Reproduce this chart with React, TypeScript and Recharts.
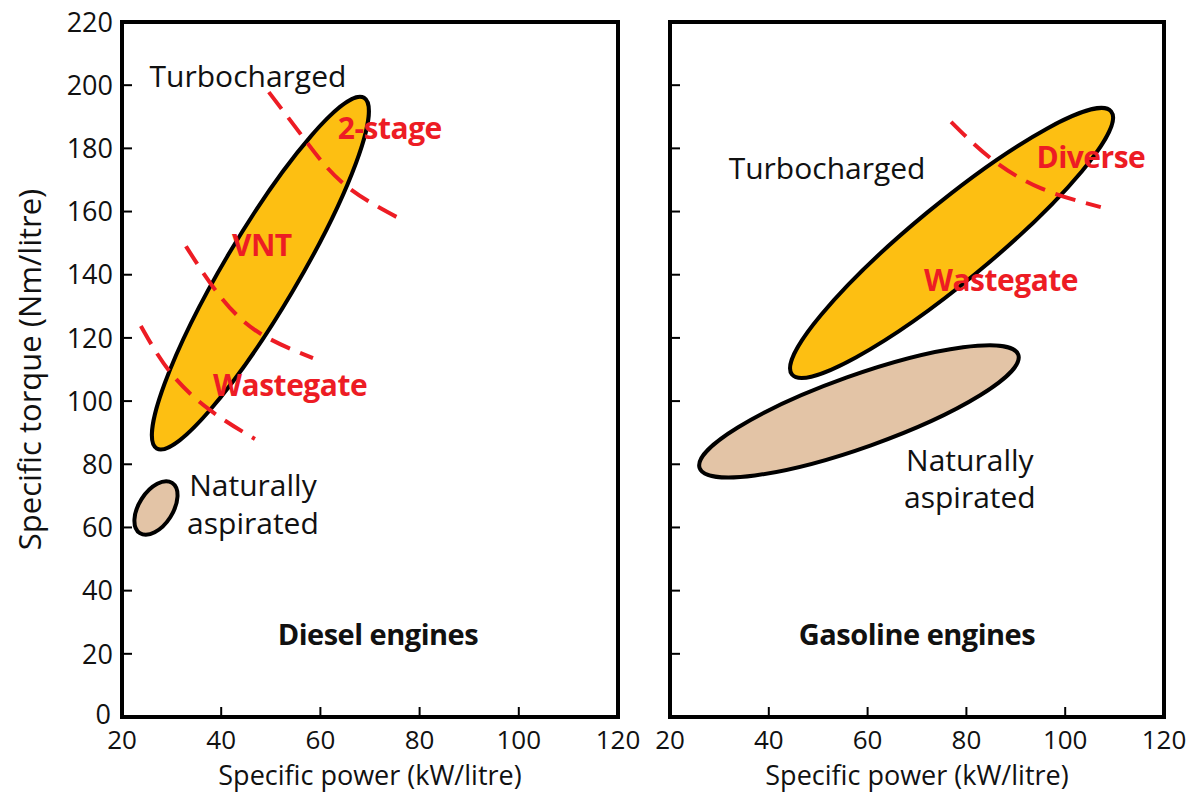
import {
  ComposedChart,
  Line,
  Scatter,
  XAxis,
  YAxis,
  ReferenceArea,
  ReferenceLine,
} from "recharts";

const FONT = "'Open Sans', sans-serif";
const RED = "#ED1C24";
const ORANGE = "#FDBF12";
const TAN = "#E3C4A6";

const xTicks = [20, 40, 60, 80, 100, 120];
const yTicks = [0, 20, 40, 60, 80, 100, 120, 140, 160, 180, 200, 220];

// operating regions: end points of each ellipse's long axis (kW/litre, Nm/litre)
const dieselTurboAxis = [
  { x: 27.0, y: 85.0 },
  { x: 68.8, y: 196.0 },
];
const dieselNaturalAxis = [
  { x: 23.6, y: 58.2 },
  { x: 30.1, y: 74.1 },
];
const gasolineTurboAxis = [
  { x: 44.7, y: 108.4 },
  { x: 109.3, y: 191.7 },
];
const gasolineNaturalAxis = [
  { x: 26.0, y: 78.8 },
  { x: 90.5, y: 114.7 },
];

// dashed boundaries between boosting technologies
const dieselTwoStageArc = [
  { x: 49.6, y: 197.8 },
  { x: 56.9, y: 182.7 },
  { x: 65.0, y: 168.4 },
  { x: 76.9, y: 157.0 },
];
const dieselVntArc = [
  { x: 32.9, y: 149.0 },
  { x: 38.8, y: 135.2 },
  { x: 46.8, y: 122.5 },
  { x: 58.5, y: 113.6 },
];
const dieselWastegateArc = [
  { x: 23.8, y: 123.8 },
  { x: 29.7, y: 109.2 },
  { x: 37.7, y: 97.2 },
  { x: 46.8, y: 88.0 },
];
const gasolineDiverseArc = [
  { x: 76.9, y: 188.4 },
  { x: 84.8, y: 177.0 },
  { x: 94.9, y: 167.5 },
  { x: 107.2, y: 161.4 },
];

type Note = { x: number; y: number; text: string; kind: "plain" | "tech" | "title" };

const dieselNotes: Note[] = [
  { x: 45.4, y: 202.9, text: "Turbocharged", kind: "plain" },
  { x: 74.0, y: 186.5, text: "2-stage", kind: "tech" },
  { x: 48.2, y: 149.4, text: "VNT", kind: "tech" },
  { x: 53.9, y: 105.1, text: "Wastegate", kind: "tech" },
  { x: 46.4, y: 73.4, text: "Naturally", kind: "plain" },
  { x: 46.4, y: 61.4, text: "aspirated", kind: "plain" },
  { x: 71.6, y: 26.0, text: "Diesel engines", kind: "title" },
];

const gasolineNotes: Note[] = [
  { x: 51.8, y: 173.8, text: "Turbocharged", kind: "plain" },
  { x: 105.2, y: 177.3, text: "Diverse", kind: "tech" },
  { x: 87.0, y: 138.3, text: "Wastegate", kind: "tech" },
  { x: 80.7, y: 81.4, text: "Naturally", kind: "plain" },
  { x: 80.7, y: 69.6, text: "aspirated", kind: "plain" },
  { x: 70.0, y: 26.0, text: "Gasoline engines", kind: "title" },
];

const TICK_LEN = 10;
const TICK_FONT = 26;

const BottomTick = (props: any) => {
  const { x, y, payload } = props;
  const edge = payload.value === 20 || payload.value === 120;
  return (
    <g>
      {!edge && <line x1={x} x2={x} y1={y} y2={y - TICK_LEN} stroke="#000" strokeWidth={2} />}
      <text x={x} y={y + 32} textAnchor="middle" fontSize={TICK_FONT} fontFamily={FONT} fill="#111">
        {payload.value}
      </text>
    </g>
  );
};

const TopTick = (props: any) => {
  const { x, y, payload } = props;
  if (payload.value === 20 || payload.value === 120) return <g />;
  return <line x1={x} x2={x} y1={y} y2={y + TICK_LEN} stroke="#000" strokeWidth={2} />;
};

const makeLeftTick = (withLabel: boolean) => (props: any) => {
  const { x, y, payload } = props;
  const edge = payload.value === 0 || payload.value === 220;
  return (
    <g>
      {!edge && <line x1={x} x2={x + TICK_LEN} y1={y} y2={y} stroke="#000" strokeWidth={2} />}
      {withLabel && (
        <text
          x={payload.value === 0 ? x - 11 : x - 9}
          y={payload.value === 0 ? y - 3 : y}
          dy="0.36em"
          textAnchor="end"
          fontSize={27}
          fontFamily={FONT}
          fill="#111"
        >
          {payload.value}
        </text>
      )}
    </g>
  );
};

const RightTick = (props: any) => {
  const { x, y, payload } = props;
  if (payload.value === 0 || payload.value === 220) return <g />;
  return <line x1={x} x2={x - TICK_LEN} y1={y} y2={y} stroke="#000" strokeWidth={2} />;
};

// ellipse spanning the pixel segment handed over by ReferenceLine
const ellipseShape = (halfWidth: number, fill: string) => (p: any) => {
  const { x1, y1, x2, y2 } = p;
  const cx = (x1 + x2) / 2;
  const cy = (y1 + y2) / 2;
  const rx = Math.hypot(x2 - x1, y2 - y1) / 2;
  const angle = (Math.atan2(y2 - y1, x2 - x1) * 180) / Math.PI;
  return (
    <ellipse
      cx={cx}
      cy={cy}
      rx={rx}
      ry={halfWidth}
      transform={`rotate(${angle} ${cx} ${cy})`}
      fill={fill}
      stroke="#000"
      strokeWidth={4}
    />
  );
};

const noteShape = (p: any) => {
  const n: Note = p.payload;
  const style =
    n.kind === "tech"
      ? { fill: RED, fontWeight: 700, fontSize: 30 }
      : n.kind === "title"
      ? { fill: "#111", fontWeight: 700, fontSize: 29 }
      : { fill: "#111", fontWeight: 400, fontSize: 30 };
  return (
    <text
      x={p.cx}
      y={p.cy}
      dy="0.36em"
      textAnchor="middle"
      fontFamily={FONT}
      fontSize={style.fontSize}
      fontWeight={style.fontWeight}
      fill={style.fill}
      letterSpacing={n.kind === "plain" ? 0 : -0.5}
    >
      {n.text}
    </text>
  );
};

type Region = { axis: { x: number; y: number }[]; half: number; fill: string };

interface PanelProps {
  width: number;
  leftWidth: number;
  rightWidth: number;
  showYLabels: boolean;
  regions: Region[];
  arcs: { x: number; y: number }[][];
  notes: Note[];
}

function Panel({ width, leftWidth, rightWidth, showYLabels, regions, arcs, notes }: PanelProps) {
  return (
    <ComposedChart width={width} height={793} margin={{ top: 0, right: 0, bottom: 0, left: 0 }}>
      <XAxis
        dataKey="x"
        type="number"
        domain={[20, 120]}
        ticks={xTicks}
        height={76}
        axisLine={false}
        tickLine={false}
        tickSize={0}
        tickMargin={0}
        tick={<BottomTick />}
        interval={0}
        allowDataOverflow
        label={{
          value: "Specific power (kW/litre)",
          position: "insideBottom",
          offset: 8,
          style: { fontFamily: FONT, fontSize: 27, fill: "#111" },
        }}
      />
      <XAxis
        xAxisId="top"
        orientation="top"
        type="number"
        domain={[20, 120]}
        ticks={xTicks}
        height={22}
        axisLine={false}
        tickLine={false}
        tickSize={0}
        tickMargin={0}
        tick={<TopTick />}
        interval={0}
      />
      <YAxis
        type="number"
        domain={[0, 220]}
        ticks={yTicks}
        width={leftWidth}
        axisLine={false}
        tickLine={false}
        tickSize={0}
        tickMargin={0}
        tick={makeLeftTick(showYLabels)}
        interval={0}
        allowDataOverflow
        label={
          showYLabels
            ? {
                value: "Specific torque (Nm/litre)",
                angle: -90,
                position: "insideLeft",
                offset: 30,
                style: { fontFamily: FONT, fontSize: 31, fill: "#111", textAnchor: "middle" },
              }
            : undefined
        }
      />
      <YAxis
        yAxisId="right"
        orientation="right"
        type="number"
        domain={[0, 220]}
        ticks={yTicks}
        width={rightWidth}
        axisLine={false}
        tickLine={false}
        tickSize={0}
        tickMargin={0}
        tick={<RightTick />}
        interval={0}
      />
      <ReferenceArea x1={20} x2={120} y1={0} y2={220} fill="none" stroke="#000" strokeWidth={4} />
      {regions.map((r, i) => (
        <ReferenceLine
          key={i}
          segment={[r.axis[0], r.axis[1]]}
          shape={ellipseShape(r.half, r.fill)}
        />
      ))}
      {arcs.map((a, i) => (
        <Line
          key={i}
          data={a}
          dataKey="y"
          type="natural"
          stroke={RED}
          strokeWidth={4}
          strokeDasharray="21 11"
          dot={false}
          activeDot={false}
          isAnimationActive={false}
        />
      ))}
      <Scatter data={notes} dataKey="y" shape={noteShape} isAnimationActive={false} />
    </ComposedChart>
  );
}

export default function App() {
  return (
    <div
      style={{
        position: "absolute",
        left: 0,
        top: 0,
        width: 1195,
        height: 793,
        background: "#fff",
        overflow: "hidden",
      }}
    >
      <div style={{ position: "absolute", left: 0, top: 0 }}>
        <Panel
          width={644}
          leftWidth={122}
          rightWidth={26}
          showYLabels
          regions={[
            { axis: dieselTurboAxis, half: 37, fill: ORANGE },
            { axis: dieselNaturalAxis, half: 17, fill: TAN },
          ]}
          arcs={[dieselTwoStageArc, dieselVntArc, dieselWastegateArc]}
          notes={dieselNotes}
        />
      </div>
      <div style={{ position: "absolute", left: 644, top: 0 }}>
        <Panel
          width={551}
          leftWidth={26}
          rightWidth={31}
          showYLabels={false}
          regions={[
            { axis: gasolineTurboAxis, half: 39, fill: ORANGE },
            { axis: gasolineNaturalAxis, half: 36, fill: TAN },
          ]}
          arcs={[gasolineDiverseArc]}
          notes={gasolineNotes}
        />
      </div>
    </div>
  );
}
